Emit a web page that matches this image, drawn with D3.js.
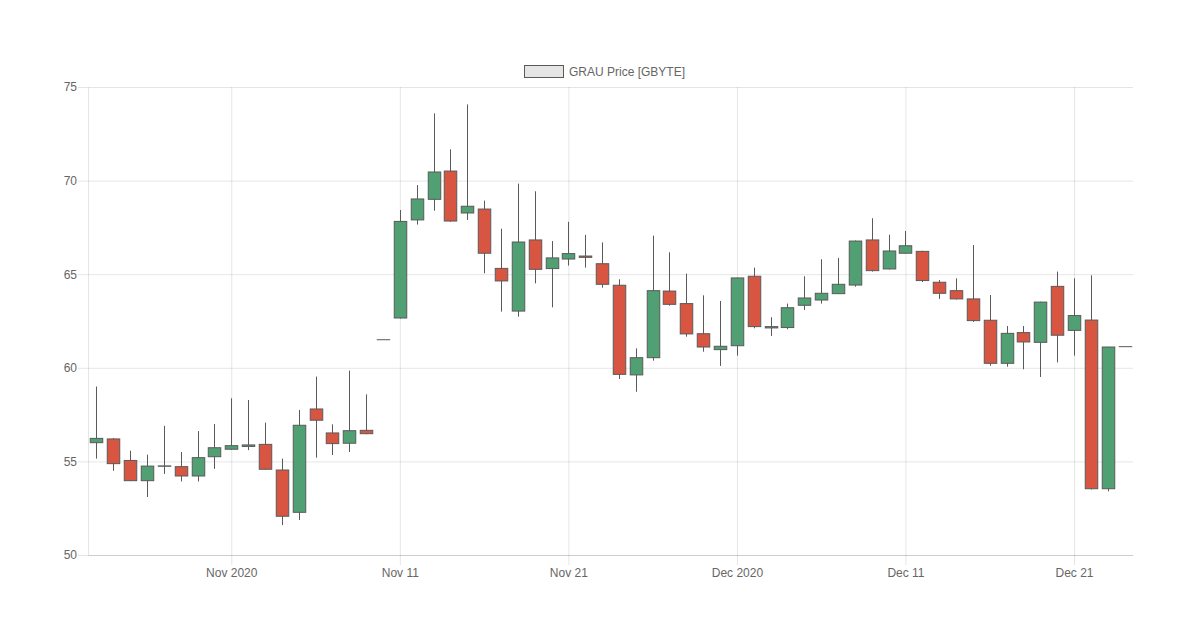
<!DOCTYPE html>
<html>
<head>
<meta charset="utf-8">
<script src="https://cdn.jsdelivr.net/npm/d3@7"></script>
<style>
  body { margin: 0; background: #fff; }
  text { font-family: "Liberation Sans", Arial, Helvetica, sans-serif; }
</style>
</head>
<body>
<div id="chart"></div>
<script>
const Width = 1200
const Height = 641

const seriesName = 'GRAU Price [GBYTE]'
const firstDay = new Date(2020, 9, 24)
const lastDay = new Date(2020, 11, 24)

const openValues = [
  56.0, 56.2, 55.05, 53.97, 54.74, 54.72, 54.22, 55.25,
  55.65, 55.8, 55.91, 54.54, 52.28, 57.8, 56.52, 55.97, 56.66, 61.5, 62.66, 67.9,
  69.0, 70.51, 68.27, 68.48, 65.31, 63.03, 66.83, 65.3, 65.81, 65.97,
  65.56, 64.41, 59.62, 60.54, 64.1, 63.43, 61.82, 60.97,
  61.18, 64.89, 62.13, 62.15, 63.34, 63.62, 63.96, 64.42, 66.83, 65.28,
  66.12, 66.22, 64.57, 64.12, 63.68, 62.54, 60.24, 61.88, 61.36, 64.35,
  62.0, 62.55, 53.54, 61.13
]
const highValues = [
  59.0, 56.25, 55.57, 55.36, 56.9, 55.5, 56.62, 57.0,
  58.37, 58.28, 57.07, 55.15, 57.75, 59.53, 56.98, 59.85, 58.58, 61.5, 68.43, 69.76,
  73.59, 71.67, 74.07, 68.93, 67.43, 69.84, 69.43, 66.77, 67.8, 67.1,
  66.7, 64.73, 61.04, 67.06, 66.17, 65.03, 63.87, 63.57,
  64.82, 65.35, 62.7, 63.43, 64.89, 65.8, 65.87, 66.8, 67.99, 67.11,
  67.31, 66.25, 64.69, 64.78, 66.56, 63.89, 62.23, 62.23, 63.53, 65.14,
  64.78, 64.94, 61.12, 61.13
]
const lowValues = [
  55.15, 54.5, 53.95, 53.1, 54.33, 53.93, 53.93, 54.6,
  55.62, 55.6, 54.55, 51.6, 51.87, 55.2, 55.34, 55.5, 56.45, 61.5, 62.63, 67.65,
  68.39, 67.8, 67.9, 65.05, 63.0, 62.73, 64.51, 63.23, 65.46, 65.35,
  64.28, 59.4, 58.72, 60.38, 63.32, 61.66, 60.86, 60.1,
  60.65, 62.11, 61.7, 62.06, 63.09, 63.43, 63.94, 64.33, 65.14, 65.25,
  66.1, 64.58, 63.68, 63.65, 62.45, 60.11, 60.06, 59.92, 59.51, 60.29,
  60.65, 53.5, 53.4, 61.13
]
const closeValues = [
  56.23, 54.88, 53.97, 54.75, 54.76, 54.22, 55.2, 55.73,
  55.84, 55.88, 54.58, 52.07, 56.93, 57.2, 55.95, 56.64, 56.48, 61.5, 67.82, 69.02,
  70.46, 67.84, 68.63, 66.12, 64.64, 66.72, 65.26, 65.87, 66.1, 65.9,
  64.46, 59.65, 60.54, 64.12, 63.39, 61.81, 61.11, 61.15,
  64.8, 62.2, 62.2, 63.21, 63.73, 63.98, 64.46, 66.77, 65.19, 66.24,
  66.52, 64.66, 63.98, 63.68, 62.52, 60.24, 61.84, 61.38, 63.51, 61.74,
  62.79, 53.54, 61.11, 61.13
]

const xTickDates = [new Date(2020, 10, 1), new Date(2020, 10, 11), new Date(2020, 10, 21),
  new Date(2020, 11, 1), new Date(2020, 11, 11), new Date(2020, 11, 21)]
const xTickLabels = ['Nov 2020', 'Nov 11', 'Nov 21', 'Dec 2020', 'Dec 11', 'Dec 21']
const yTicks = [50, 55, 60, 65, 70, 75]

const days = d3.timeDay.range(firstDay, d3.timeDay.offset(lastDay, 1))
const data = days.map((d, i) => ({
  date: d, o: openValues[i], h: highValues[i], l: lowValues[i], c: closeValues[i]
}))

const upColor = 'rgb(80,160,115)'
const downColor = 'rgb(215,85,65)'
const sameColor = 'rgb(90,90,90)'
const lineColor = 'rgb(90,90,90)'
const gridColor = 'rgba(0,0,0,0.1)'

const margin = { top: 87, right: 67, bottom: 86, left: 88 }
const plotW = Width - margin.right - margin.left
const plotH = Height - margin.bottom - margin.top

const svg = d3.select('#chart')
  .append('svg')
  .attr('width', Width)
  .attr('height', Height)

const x = d3.scaleTime()
  .domain([d3.timeHour.offset(firstDay, -12), d3.timeHour.offset(lastDay, 12)])
  .range([margin.left, Width - margin.right])

const y = d3.scaleLinear()
  .domain([50, 75])
  .range([Height - margin.bottom, margin.top])

// y axis + horizontal grid
const yg = svg.append('g')
  .attr('transform', `translate(${margin.left},0)`)
  .call(d3.axisLeft(y).tickValues(yTicks).tickSize(10).tickSizeOuter(0).tickPadding(1))
yg.select('.domain').attr('stroke', gridColor)
yg.selectAll('.tick line').attr('stroke', gridColor)
yg.selectAll('.tick text').attr('fill', '#666').attr('font-size', 12)
yg.selectAll('.tick').append('line')
  .attr('x1', 0).attr('x2', plotW)
  .attr('stroke', gridColor)

// x axis + vertical grid
const xg = svg.append('g')
  .attr('transform', `translate(0,${Height - margin.bottom})`)
  .call(d3.axisBottom(x).tickValues(xTickDates).tickSize(10).tickSizeOuter(0).tickPadding(3)
    .tickFormat((d, i) => xTickLabels[i]))
xg.select('.domain').attr('stroke', gridColor)
xg.selectAll('.tick line').attr('stroke', gridColor)
xg.selectAll('.tick text').attr('fill', '#666').attr('font-size', 12)
xg.selectAll('.tick').append('line')
  .attr('y1', 0).attr('y2', -plotH)
  .attr('stroke', gridColor)

// candles
const bodyW = 12.5
const candles = svg.append('g').selectAll('g')
  .data(data)
  .enter().append('g')

candles.append('line')
  .attr('x1', d => Math.round(x(d.date)) + 0.5)
  .attr('x2', d => Math.round(x(d.date)) + 0.5)
  .attr('y1', d => y(d.h))
  .attr('y2', d => y(d.l))
  .attr('stroke', lineColor)
  .attr('stroke-width', 1)

candles.append('rect')
  .attr('x', d => Math.round(x(d.date)) + 0.5 - bodyW / 2)
  .attr('y', d => y(Math.max(d.o, d.c)))
  .attr('width', bodyW)
  .attr('height', d => Math.max(0.01, y(Math.min(d.o, d.c)) - y(Math.max(d.o, d.c))))
  .attr('fill', d => d.c > d.o ? upColor : d.c < d.o ? downColor : sameColor)
  .attr('stroke', lineColor)
  .attr('stroke-width', 1)

// legend
const legend = svg.append('g')
legend.append('rect')
  .attr('x', 524.5).attr('y', 65.5)
  .attr('width', 39).attr('height', 12)
  .attr('fill', 'rgba(0,0,0,0.1)')
  .attr('stroke', lineColor)
  .attr('stroke-width', 1)
legend.append('text')
  .attr('x', 569).attr('y', 76)
  .attr('fill', '#666')
  .attr('font-size', 12)
  .text(seriesName)
</script>
</body>
</html>
